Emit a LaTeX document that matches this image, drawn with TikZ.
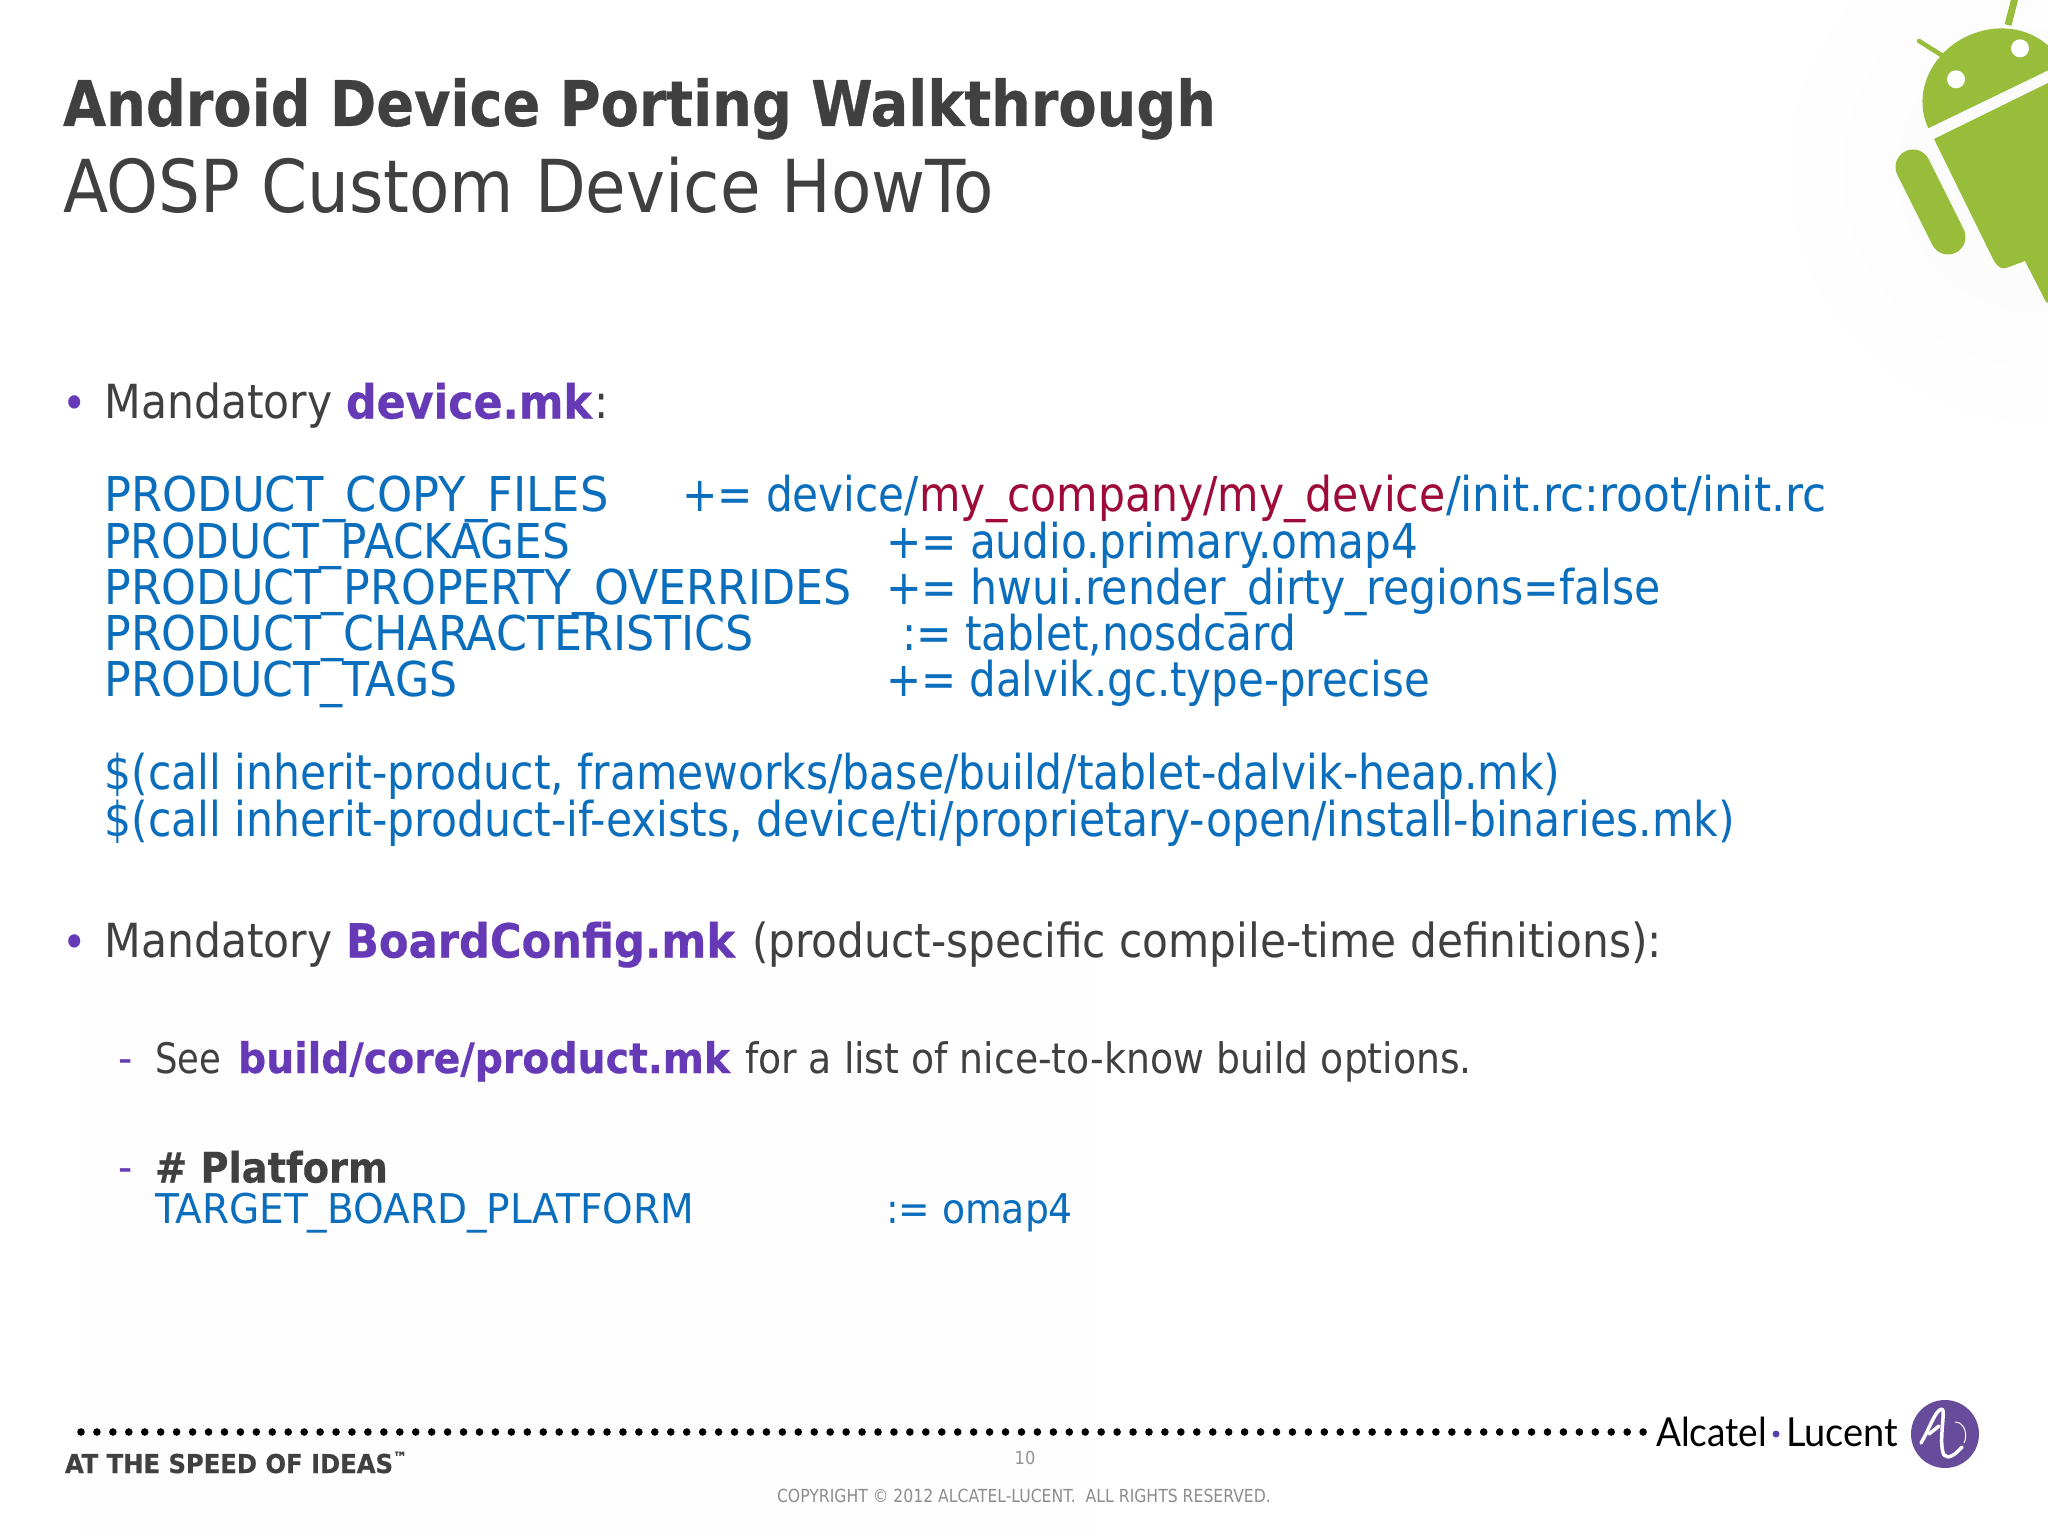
\documentclass[tikz,border=0pt]{standalone}
\usepackage{fontspec}
\usepackage{graphicx}
\setmainfont{DejaVu Sans Condensed}[BoldFont={DejaVu Sans Condensed Bold},BoldFeatures={FakeBold=0.5}]
\newfontfamily\logofont{Lato}
\definecolor{dk}{HTML}{404040}
\definecolor{cb}{HTML}{0A6EBD}
\definecolor{cr}{HTML}{9E0B39}
\definecolor{pu}{HTML}{6639B7}
\definecolor{gr}{HTML}{97BD3B}
\definecolor{lp}{HTML}{684C9C}
\definecolor{tint}{HTML}{FEFEFF}
\newcommand{\fitw}[2]{\resizebox{#1pt}{\height}{#2}}
\newcommand{\fs}[1]{\fontsize{#1}{#1}\selectfont}
\tikzset{
  txt/.style={anchor=base west,inner sep=0pt,outer sep=0pt},
  body/.style={txt,text=dk,font=\fs{47}},
  bodybold/.style={txt,text=pu,font=\fs{47}\bfseries},
  code/.style={txt,text=cb,font=\fs{48}},
  codered/.style={txt,text=cr,font=\fs{48}},
  sub/.style={txt,text=dk,font=\fs{42}},
  subbold/.style={txt,text=pu,font=\fs{42}\bfseries},
  subcode/.style={txt,text=cb,font=\fs{41}},
  bulletmark/.style={txt,text=pu,font=\fs{46}},
  dashmark/.style={txt,text=pu,font=\fs{44}},
}
\begin{document}
\begin{tikzpicture}[x=1pt,y=-1pt]
\useasboundingbox (0,0) rectangle (2048,1536);
\fill[white] (0,0) rectangle (2048,1536);
\fill[tint] (78,960) rectangle (1100,1536);
% Android
\begin{scope}
\clip (1700,0) rectangle (2048,460);
\shade[inner color=black!2,outer color=white] (2040,170) circle[radius=280];
\end{scope}
\begin{scope}[shift={(1995,96)},rotate=25.8]
\fill[gr] plot[domain=0:180,samples=60] ({74*cos(\x)},{-66*sin(\x)}) -- cycle;
\end{scope}
\fill[white] (2020,48.3) circle[radius=9];
\fill[white] (1956,79.3) circle[radius=9];
\draw[gr,line width=4.5pt,line cap=round] (1919,41) -- (1943,56);
\draw[gr,line width=7pt] (2015,-2) -- (2008,25);
\draw[gr,line width=35pt,line cap=round] (1913,167) -- (1948,237);
\fill[gr] (1934,139) -- (2048,83) -- (2048,303) -- (2046,302) -- (2025,261) -- (2006,268) .. controls (2000,270) and (1996,265) .. (1992,257) -- cycle;
% Title
\node[txt,text=dk,font=\fs{63}\bfseries] (title) at (63,126) {\fitw{1153}{Android Device Porting Walkthrough}};
\node[txt,text=dk,font=\fs{73}] (subtitle) at (63,212.5) {\fitw{931}{AOSP Custom Device HowTo}};
% Bullet 1
\node[bulletmark] (b1) at (62,419) {•};
\node[body] (m1) at (104.5,418.5) {\fitw{228}{Mandatory}};
\node[bodybold] (m1b) at (346,418.5) {\fitw{246}{device.mk}};
\node[body] (m1c) at (594,418.5) {:};
\node[code] (l1a) at (104.5,511.5) {\fitw{504}{PRODUCT\_COPY\_FILES}};
\node[code] (l1b) at (682,511.5) {\fitw{237}{+= device/}};
\node[codered] (l1r) at (919.5,511.5) {\fitw{526}{my\_company/my\_device}};
\node[code] (l1c) at (1446,511.5) {\fitw{380}{/init.rc:root/init.rc}};
\node[code] (l2a) at (104.5,558) {\fitw{466}{PRODUCT\_PACKAGES}};
\node[code] (l2b) at (886,558) {\fitw{532}{+= audio.primary.omap4}};
\node[code] (l3a) at (104.5,604) {\fitw{747}{PRODUCT\_PROPERTY\_OVERRIDES}};
\node[code] (l3b) at (886,604) {\fitw{775}{+= hwui.render\_dirty\_regions=false}};
\node[code] (l4a) at (104.5,650) {\fitw{649}{PRODUCT\_CHARACTERISTICS}};
\node[code] (l4b) at (902,650) {\fitw{394}{:= tablet,nosdcard}};
\node[code] (l5a) at (104.5,696.5) {\fitw{353}{PRODUCT\_TAGS}};
\node[code] (l5b) at (886,696.5) {\fitw{544}{+= dalvik.gc.type-precise}};
\node[code] (c1) at (104.5,789.5) {\fitw{1456}{\$(call inherit-product, frameworks/base/build/tablet-dalvik-heap.mk)}};
\node[code] (c2) at (104.5,836) {\fitw{1630}{\$(call inherit-product-if-exists, device/ti/proprietary-open/install-binaries.mk)}};
% Bullet 2
\node[bulletmark] (b2) at (62,958) {•};
\node[body] (m2) at (104.5,957.5) {\fitw{228}{Mandatory}};
\node[bodybold] (m2b) at (346,957.5) {\fitw{389}{BoardConfig.mk}};
\node[body] (m2c) at (752,957.5) {\fitw{910}{(product-specific compile-time definitions):}};
\node[dashmark] (d1) at (118.5,1073) {-};
\node[sub] (see) at (155,1073) {\fitw{66}{See}};
\node[subbold] (seeb) at (238,1073) {\fitw{492}{build/core/product.mk}};
\node[sub] (seec) at (745,1073) {\fitw{727}{for a list of nice-to-know build options.}};
\node[dashmark] (d2) at (118.5,1182) {-};
\node[sub,font=\fs{42}\bfseries] (plat) at (155,1182.5) {\fitw{233}{\# Platform}};
\node[subcode] (tb) at (155,1223) {\fitw{539}{TARGET\_BOARD\_PLATFORM}};
\node[subcode] (om) at (886,1223) {\fitw{187}{:= omap4}};
% Footer dots
\foreach \i in {0,...,98} \fill[black] ({81+\i*15.94},1432) circle[radius=3.8];
\node[txt,text=dk,font=\fs{26}\bfseries] (speed) at (65,1473) {\fitw{342}{AT THE SPEED OF IDEAS\raisebox{0.4em}{\fs{15}™}}};
\node[txt,text=gray!85,font=\fs{18},anchor=base] (pg) at (1025,1464) {10};
\node[txt,text=gray!90,font=\fs{18}] (copy) at (777,1502) {\fitw{494}{COPYRIGHT © 2012 ALCATEL-LUCENT.\ \ ALL RIGHTS RESERVED.}};
% Logo
\node[txt,text=black,font=\logofont\fs{40}] (al) at (1656,1446) {\fitw{111}{Alcatel}};
\fill[fill=lp!85!blue] (1776,1434) circle[radius=3.5];
\node[txt,text=black,font=\logofont\fs{40}] (lu) at (1786,1446) {\fitw{112}{Lucent}};
\fill[lp] (1945,1434) circle[radius=34];
\draw[white,line width=3.5pt,line cap=round,line join=round] (1921,1443) .. controls (1930,1428) and (1935,1410) .. (1942,1409) .. controls (1946,1410) and (1938,1443) .. (1944,1455) .. controls (1948,1460) and (1956,1454) .. (1962,1447);
\draw[white,line width=3.5pt,line cap=round] (1929,1434) -- (1939,1426);
\draw[white,line width=1pt] (1955,1422) .. controls (1965,1422) and (1968,1436) .. (1964,1443);
\end{tikzpicture}
\end{document}
